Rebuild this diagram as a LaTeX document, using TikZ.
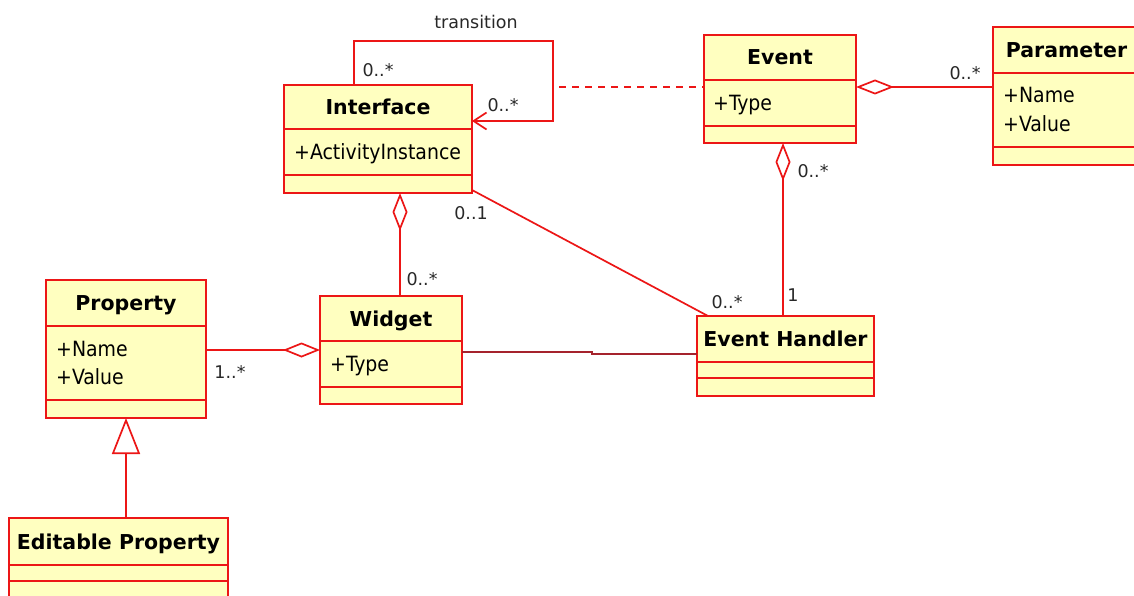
\documentclass[tikz,border=0pt]{standalone}
\usepackage{fontspec}
\setmainfont{DejaVu Sans}
\newfontfamily\condfont{DejaVu Sans Condensed}
\usetikzlibrary{arrows.meta}
\definecolor{umlred}{RGB}{236,22,22}
\definecolor{umlfill}{RGB}{255,255,192}
\definecolor{umldark}{RGB}{165,35,45}
\definecolor{multgray}{RGB}{40,40,40}
\tikzset{
 clsbox/.style={draw=umlred, fill=umlfill, line width=2pt, inner sep=0pt, outer sep=0pt, rectangle},
 clsline/.style={draw=umlred, line width=2pt},
 clstitle/.style={font=\bfseries\fontsize{20.5}{24}\selectfont, inner sep=0pt, text height=15pt, text depth=0pt, anchor=center},
 clsattr/.style={font=\condfont\fontsize{21}{25}\selectfont, inner sep=0pt, text height=15.3pt, text depth=0pt, anchor=west},
 assoc/.style={draw=umlred, line width=1.7pt},
 mult/.style={font=\fontsize{17.5}{20}\selectfont, text=multgray, inner sep=0pt, text height=12.7pt, text depth=0pt},
}
\newcommand\umlcls[8]{%
 \node[clsbox, anchor=north west, minimum width={(#4)-(#2)}, minimum height={(#5)-(#3)}] (#1) at (#2,#3) {};
 \draw[clsline] (#2,#6) -- (#4,#6);
 \draw[clsline] (#2,#7) -- (#4,#7);
 \node[clstitle] (#1-title) at ({(#2+#4)/2},{(#3+#6)/2}) {#8};
}
\begin{document}
\begin{tikzpicture}[x=1pt,y=-1pt]
\useasboundingbox[fill=white] (0,0) rectangle (1134,596);
% classes
\umlcls{iface}{284}{85}{472}{193}{129}{175}{Interface}
\node[clsattr] (iface-a1) at (294,152) {+ActivityInstance};
\umlcls{event}{704}{35}{856}{143}{80}{126}{Event}
\node[clsattr] (event-a1) at (713,103) {+Type};
\umlcls{param}{993}{27}{1140}{165}{73}{147}{Parameter}
\node[clsattr] (param-a1) at (1003,95) {+Name};
\node[clsattr] (param-a2) at (1003,124) {+Value};
\umlcls{prop}{46}{280}{206}{418}{326}{400}{Property}
\node[clsattr] (prop-a1) at (56,349) {+Name};
\node[clsattr] (prop-a2) at (56,377) {+Value};
\umlcls{widget}{320}{296}{462}{404}{341}{387}{Widget}
\node[clsattr] (widget-a1) at (330,364) {+Type};
\umlcls{handler}{697}{316}{874}{396}{362}{378}{Event Handler}
\umlcls{editprop}{9}{518}{228}{610}{565}{581}{Editable Property}
% transition self association
\coordinate (trA) at (354,41);
\coordinate (trB) at (553,41);
\coordinate (trC) at (553,121);
\draw[assoc, -{Straight Barb[length=13pt,width=17pt]}] (iface.north -| trA) -- (trA) -- (trB) -- (trC) -- (iface.east |- trC);
% association class link
\coordinate (dashA) at (559,87);
\draw[assoc, dash pattern=on 7pt off 6pt] (dashA) -- (event.west |- dashA);
% Event - Parameter
\coordinate (epY) at (0,87);
\draw[assoc, {Diamond[open,length=38pt,width=15pt]}-] (event.east |- epY) -- (param.west |- epY);
% Event - Event Handler
\coordinate (ehX) at (783,0);
\draw[assoc, {Diamond[open,length=38pt,width=15pt]}-] (event.south -| ehX) -- (handler.north -| ehX);
% Interface - Event Handler
\draw[assoc] ([yshift=3pt]iface.south east) -- ([xshift=11pt]handler.north west);
% Interface - Widget
\coordinate (iwX) at (400,0);
\draw[assoc, {Diamond[open,length=38pt,width=15pt]}-] (iface.south -| iwX) -- (widget.north -| iwX);
% Property - Widget
\coordinate (pwY) at (0,350);
\draw[assoc, -{Diamond[open,length=37pt,width=15pt]}] (prop.east |- pwY) -- (widget.west |- pwY);
% Widget - Event Handler
\coordinate (whA) at (592,352);
\coordinate (whB) at (592,354);
\draw[assoc, draw=umldark, line width=1.5pt] (widget.east |- whA) -- (whA) -- (whB) -- (handler.west |- whB);
% Generalization
\coordinate (genX) at (126,0);
\draw[assoc, -{Triangle[open,length=36pt,width=28pt]}] (editprop.north -| genX) -- (prop.south -| genX);
% labels
\node[mult] (lblTrans) at (476,22) {transition};
\node[mult] (m1) at (378,70) {0..*};
\node[mult] (m2) at (503,105) {0..*};
\node[mult] (m3) at (965,73) {0..*};
\node[mult] (m4) at (813,171) {0..*};
\node[mult] (m5) at (793,295) {1};
\node[mult] (m6) at (471,213) {0..1};
\node[mult] (m7) at (727,302) {0..*};
\node[mult] (m8) at (422,279) {0..*};
\node[mult] (m9) at (230,372) {1..*};
\end{tikzpicture}
\end{document}
